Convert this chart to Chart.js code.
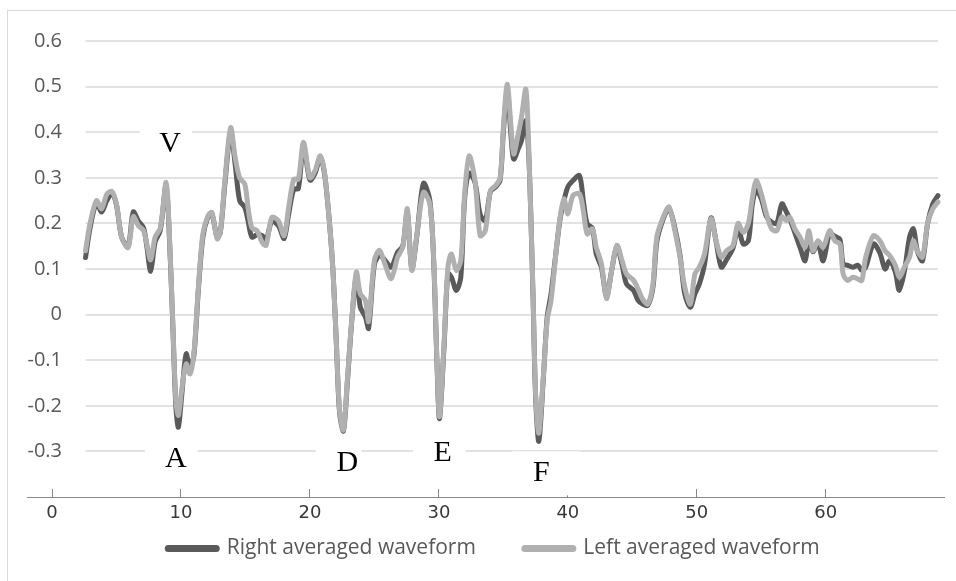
<!DOCTYPE html>
<html>
<head>
<meta charset="utf-8">
<script src="https://cdn.jsdelivr.net/npm/chart.js@4"></script>
<style>
  html, body { margin: 0; padding: 0; background: #fff; }
  #wrap { position: relative; width: 956px; height: 581px; }
  #frame { position: absolute; left: 7px; top: 10px; right: 0; bottom: 0;
           border-left: 1px solid #d9d9d9; border-top: 1px solid #d9d9d9; }
  canvas { position: absolute; left: 0; top: 0; }
</style>
</head>
<body>
<div id="wrap"><div id="frame"></div><canvas id="chart" width="956" height="581"></canvas></div>
<script>
const times = [
  2.6, 2.95, 3.45, 3.85, 4.25, 4.65, 5.0, 5.4, 5.9, 6.3,
  6.7, 7.1, 7.35, 7.65, 8.0, 8.4, 8.85, 9.1, 9.35, 9.6,
  9.8, 10.05, 10.4, 10.7, 11.0, 11.35, 11.7, 12.1, 12.4, 12.8,
  13.05, 13.4, 13.85, 14.2, 14.55, 14.95, 15.2, 15.5, 15.9, 16.3,
  16.6, 17.05, 17.55, 18.0, 18.35, 18.75, 19.1, 19.5, 20.0, 20.4,
  20.8, 21.15, 21.55, 21.8, 22.05, 22.3, 22.6, 22.9, 23.2, 23.6,
  23.9, 24.3, 24.55, 25.0, 25.4, 25.8, 26.3, 26.8, 27.2, 27.55,
  27.9, 28.3, 28.8, 29.3, 29.6, 29.85, 30.05, 30.4, 30.7, 30.97,
  31.35, 31.7, 32.0, 32.35, 32.8, 33.2, 33.6, 34.0, 34.4, 34.75,
  35.0, 35.3, 35.6, 35.8, 36.15, 36.4, 36.75, 37.0, 37.3, 37.5,
  37.75, 38.1, 38.4, 38.7, 39.1, 39.4, 39.7, 40.0, 40.4, 40.9,
  41.2, 41.5, 41.9, 42.2, 42.6, 43.0, 43.4, 43.8, 44.2, 44.55,
  45.1, 45.45, 45.8, 46.2, 46.6, 46.9, 47.4, 47.85, 48.3, 48.7,
  49.07, 49.5, 49.85, 50.2, 50.6, 51.1, 51.5, 51.9, 52.3, 52.8,
  53.2, 53.6, 54.0, 54.3, 54.6, 55.0, 55.4, 55.8, 56.2, 56.6,
  56.95, 57.2, 57.6, 58.0, 58.4, 58.7, 59.0, 59.4, 59.8, 60.3,
  60.7, 61.1, 61.35, 61.7, 62.1, 62.5, 62.8, 63.1, 63.7, 64.2,
  64.6, 64.95, 65.4, 65.7, 66.1, 66.5, 66.8, 67.1, 67.5, 67.9,
  68.3, 68.7
];

const rightWave = [
  0.125, 0.19, 0.245, 0.225, 0.25, 0.265, 0.24, 0.17, 0.15, 0.225,
  0.205, 0.19, 0.15, 0.095, 0.16, 0.185, 0.285, 0.17, -0.01, -0.2,
  -0.247, -0.18, -0.086, -0.115, -0.09, 0.055, 0.17, 0.215, 0.22, 0.17,
  0.18, 0.285, 0.40, 0.33, 0.25, 0.235, 0.206, 0.17, 0.175, 0.173,
  0.163, 0.205, 0.195, 0.167, 0.22, 0.275, 0.276, 0.37, 0.295, 0.31,
  0.345, 0.305, 0.19, 0.09, -0.063, -0.215, -0.255, -0.15, -0.03, 0.085,
  0.017, -0.005, -0.03, 0.11, 0.13, 0.12, 0.104, 0.137, 0.15, 0.225,
  0.1, 0.175, 0.288, 0.25, 0.115, -0.105, -0.228, -0.07, 0.09, 0.082,
  0.053, 0.082, 0.255, 0.31, 0.29, 0.22, 0.206, 0.27, 0.28, 0.295,
  0.40, 0.49, 0.39, 0.341, 0.363, 0.381, 0.425, 0.33, 0.04, -0.18,
  -0.278, -0.14, -0.005, 0.046, 0.141, 0.21, 0.25, 0.28, 0.294, 0.305,
  0.25, 0.199, 0.19, 0.133, 0.104, 0.04, 0.097, 0.15, 0.11, 0.067,
  0.053, 0.031, 0.023, 0.02, 0.06, 0.16, 0.21, 0.232, 0.19, 0.13,
  0.045, 0.016, 0.045, 0.067, 0.11, 0.212, 0.16, 0.104, 0.12, 0.145,
  0.19, 0.155, 0.162, 0.24, 0.272, 0.254, 0.215, 0.203, 0.2, 0.243,
  0.225, 0.21, 0.18, 0.148, 0.118, 0.165, 0.138, 0.155, 0.118, 0.178,
  0.172, 0.165, 0.111, 0.108, 0.104, 0.108, 0.097, 0.104, 0.155, 0.135,
  0.10, 0.118, 0.093, 0.053, 0.095, 0.17, 0.188, 0.14, 0.118, 0.2,
  0.243, 0.261
];

const leftWave = [
  0.14, 0.20, 0.25, 0.232, 0.264, 0.27, 0.242, 0.17, 0.147, 0.215,
  0.195, 0.184, 0.155, 0.12, 0.17, 0.19, 0.29, 0.177, -0.006, -0.188,
  -0.221, -0.166, -0.108, -0.13, -0.086, 0.06, 0.177, 0.217, 0.224, 0.166,
  0.18, 0.293, 0.41, 0.345, 0.30, 0.286, 0.235, 0.19, 0.184, 0.158,
  0.152, 0.213, 0.206, 0.173, 0.235, 0.297, 0.297, 0.378, 0.30, 0.316,
  0.348, 0.308, 0.19, 0.09, -0.063, -0.21, -0.253, -0.144, -0.027, 0.093,
  0.046, 0.031, -0.015, 0.119, 0.141, 0.112, 0.079, 0.126, 0.148, 0.232,
  0.097, 0.177, 0.268, 0.243, 0.119, -0.1, -0.224, -0.063, 0.104, 0.133,
  0.097, 0.119, 0.265, 0.348, 0.294, 0.173, 0.184, 0.272, 0.283, 0.30,
  0.41, 0.505, 0.41, 0.352, 0.396, 0.432, 0.494, 0.337, 0.046, -0.173,
  -0.26, -0.136, -0.012, 0.031, 0.141, 0.214, 0.254, 0.221, 0.261, 0.265,
  0.228, 0.177, 0.188, 0.148, 0.112, 0.035, 0.097, 0.152, 0.119, 0.089,
  0.075, 0.056, 0.034, 0.023, 0.067, 0.17, 0.214, 0.236, 0.184, 0.126,
  0.06, 0.023, 0.089, 0.104, 0.133, 0.21, 0.162, 0.126, 0.14, 0.151,
  0.2, 0.18, 0.2, 0.254, 0.294, 0.265, 0.221, 0.188, 0.184, 0.214,
  0.206, 0.214, 0.188, 0.17, 0.148, 0.184, 0.14, 0.162, 0.148, 0.184,
  0.162, 0.155, 0.089, 0.075, 0.082, 0.078, 0.075, 0.126, 0.173, 0.162,
  0.14, 0.13, 0.108, 0.082, 0.104, 0.126, 0.162, 0.14, 0.126, 0.2,
  0.232, 0.247
];

const xTicks = [0, 10, 20, 30, 40, 50, 60];
const yTicks = [-0.4, -0.3, -0.2, -0.1, 0, 0.1, 0.2, 0.3, 0.4, 0.5, 0.6];
const seriesNames = ['Right averaged waveform', 'Left averaged waveform'];

// letters marking the wave events (text centre in data units, white box from..to)
const events = [
  {text: 'V', x: 9.15, y: 0.374, from: 6.8, to: 10.85},
  {text: 'A', x: 9.6, y: -0.317, from: 7.2, to: 11.3},
  {text: 'D', x: 22.9, y: -0.326, from: 20.45, to: 24.0},
  {text: 'E', x: 30.3, y: -0.304, from: 28.0, to: 32.1},
  {text: 'F', x: 37.95, y: -0.348, from: 35.7, to: 40.9}
];

const toPoints = values => values.map((v, i) => ({x: times[i], y: v}));

// horizontal grid only over the span of the data, plus the event letters
const waveDecor = {
  id: 'waveDecor',
  afterLayout(chart) {
    const {legend, scales: {x, y}} = chart;
    // the plot starts at the x axis line, the y labels sit over it
    y.left = 0;
    y.right = 70;
    x.bottom = x.top + 30;
    legend.top -= 8;
    legend.bottom -= 8;
    legend.left += 22;
    legend.right += 22;
  },
  beforeDatasetsDraw(chart) {
    const {ctx, scales: {x, y}} = chart;
    const left = x.getPixelForValue(times[0]);
    const right = x.getPixelForValue(times[times.length - 1]);
    ctx.save();
    ctx.strokeStyle = '#d9d9d9';
    ctx.lineWidth = 1.5;
    for (const v of yTicks.slice(1)) {
      const py = Math.round(y.getPixelForValue(v));
      ctx.beginPath();
      ctx.moveTo(left, py);
      ctx.lineTo(right, py);
      ctx.stroke();
    }
    ctx.font = '30px "Liberation Serif"';
    ctx.textAlign = 'center';
    ctx.textBaseline = 'middle';
    for (const ev of events) {
      const x1 = x.getPixelForValue(ev.from);
      const x2 = x.getPixelForValue(ev.to);
      const cy = y.getPixelForValue(ev.y);
      ctx.fillStyle = '#fff';
      ctx.fillRect(x1, cy - 22, x2 - x1, 44);
      ctx.fillStyle = '#000';
      ctx.fillText(ev.text, x.getPixelForValue(ev.x), cy);
    }
    ctx.restore();
  }
};

new Chart(document.getElementById('chart'), {
  type: 'line',
  data: {
    datasets: [
      {
        label: seriesNames[1],
        data: toPoints(leftWave),
        borderColor: '#b0b0b0',
        backgroundColor: '#b0b0b0'
      },
      {
        label: seriesNames[0],
        data: toPoints(rightWave),
        borderColor: '#5a5a5a',
        backgroundColor: '#5a5a5a'
      }
    ]
  },
  options: {
    responsive: false,
    animation: false,
    devicePixelRatio: 1,
    layout: {padding: {top: 41, right: 12, bottom: 4, left: 0}},
    elements: {
      point: {radius: 0},
      line: {borderWidth: 5, tension: 0.3, borderCapStyle: 'round', borderJoinStyle: 'round'}
    },
    scales: {
      x: {
        type: 'linear',
        min: -1.94,
        max: 69.17,
        afterBuildTicks: axis => { axis.ticks = xTicks.map(v => ({value: v})); },
        afterFit: axis => { axis.height = 0; },
        grid: {drawOnChartArea: false, tickLength: -8, color: '#888', lineWidth: 1},
        border: {color: '#888', width: 1},
        ticks: {padding: 14, color: '#383838', font: {family: 'DejaVu Sans', size: 18}}
      },
      y: {
        min: -0.4,
        max: 0.6,
        afterBuildTicks: axis => { axis.ticks = yTicks.map(v => ({value: v})); },
        afterFit: axis => { axis.width = 27; },
        grid: {display: false, drawTicks: false},
        border: {display: false},
        ticks: {
          padding: 8,
          color: '#595959',
          font: {family: 'Open Sans', size: 20},
          callback: v => (v === yTicks[0] ? '' : String(v))
        }
      }
    },
    plugins: {
      tooltip: {enabled: false},
      legend: {
        position: 'bottom',
        labels: {
          usePointStyle: true,
          pointStyle: 'line',
          pointStyleWidth: 48,
          padding: 49,
          color: '#595959',
          font: {family: 'Open Sans', size: 21},
          generateLabels: chart => Chart.defaults.plugins.legend.labels.generateLabels(chart)
            .map(item => ({...item, lineWidth: 7, lineCap: 'round'})),
          sort: (a, b) => b.datasetIndex - a.datasetIndex
        }
      }
    }
  },
  plugins: [waveDecor]
});
</script>
</body>
</html>
